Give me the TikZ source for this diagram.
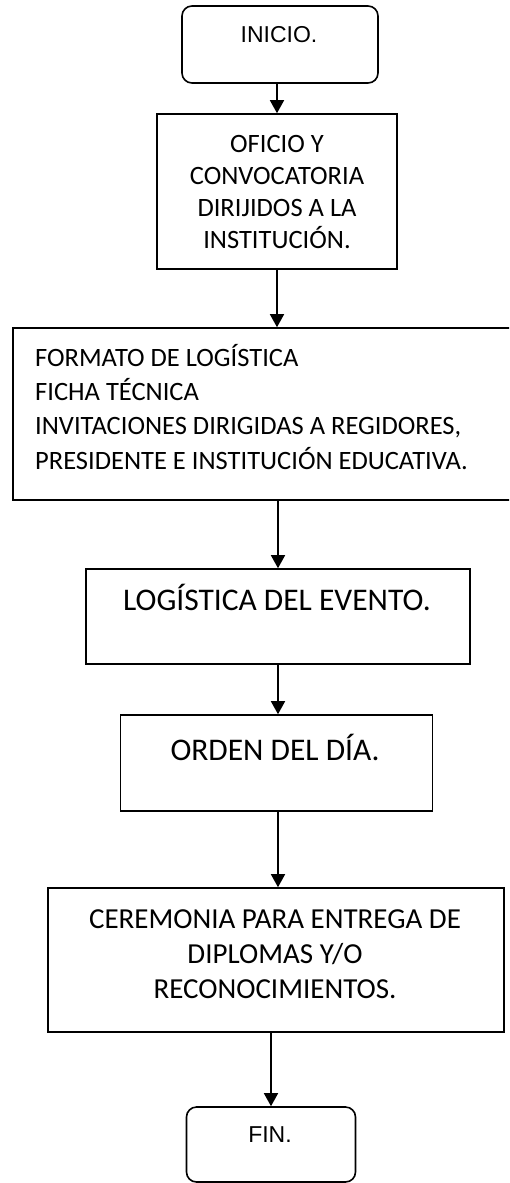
\documentclass[tikz,border=0pt]{standalone}
\usepackage{fontspec}
\newfontfamily\calfont{Carlito}
\newfontfamily\arfont{Liberation Sans}
\usetikzlibrary{arrows.meta}
\begin{document}
\begin{tikzpicture}[x=1pt,y=-1pt,
  box/.style={draw, line width=1.6pt, inner sep=0pt},
  rbox/.style={box, rounded corners=10pt},
  arr/.style={line width=1.6pt, -{Triangle[length=13pt,width=14pt]}},
  txt/.style={inner sep=0pt, anchor=base},
  txtsmall/.style={txt, font=\calfont\fontsize{26.5}{32}\selectfont},
  txtmid/.style={txt, font=\calfont\fontsize{29}{35}\selectfont},
  txtbig/.style={txt, font=\calfont\fontsize{31.5}{38}\selectfont},
  txtarial/.style={txt, font=\arfont\fontsize{23}{27}\selectfont},
  txtleft/.style={txtsmall, anchor=base west}]
\useasboundingbox (0,0) rectangle (509,1183);
\clip (0,0) rectangle (509,1183);
% boxes
\node[rbox, minimum width=196pt, minimum height=77pt] (inicio) at (280,44.5) {};
\node[box, minimum width=240pt, minimum height=155pt] (oficio) at (277,191.5) {};
\node[box, minimum width=507pt, minimum height=172pt] (formato) at (266.5,414) {};
\node[box, minimum width=384pt, minimum height=95pt] (logistica) at (278,616.5) {};
\node[box, minimum width=312pt, minimum height=96pt] (orden) at (276.5,763) {};
\node[box, minimum width=456pt, minimum height=144pt] (ceremonia) at (276,960) {};
\node[rbox, minimum width=169pt, minimum height=75pt] (fin) at (271,1144.5) {};
% texts
\node[txtarial] (tinicio) at (279,42.3) {INICIO.};
\node[txtsmall] (tof1) at (277,152) {OFICIO Y};
\node[txtsmall] (tof2) at (277,184.3) {CONVOCATORIA};
\node[txtsmall] (tof3) at (277,216.6) {DIRIJIDOS A LA};
\node[txtsmall] (tof4) at (277,248.9) {INSTITUCIÓN.};
\node[txtleft] (tfo1) at (35,366) {FORMATO DE LOGÍSTICA};
\node[txtleft] (tfo2) at (35,400) {FICHA TÉCNICA};
\node[txtleft] (tfo3) at (35,434.8) {INVITACIONES DIRIGIDAS A REGIDORES,};
\node[txtleft] (tfo4) at (35,469.2) {PRESIDENTE E INSTITUCIÓN EDUCATIVA.};
\node[txtbig] (tlog) at (277,610) {LOGÍSTICA DEL EVENTO.};
\node[txtbig] (tord) at (275,760) {ORDEN DEL DÍA.};
\node[txtmid] (tce1) at (275,928) {CEREMONIA PARA ENTREGA DE};
\node[txtmid] (tce2) at (275,963) {DIPLOMAS Y/O};
\node[txtmid] (tce3) at (275,998) {RECONOCIMIENTOS.};
\node[txtarial] (tfin) at (270,1142.3) {FIN.};
% connectors
\draw[arr] (oficio.north |- inicio.south) -- (oficio.north);
\draw[arr] (oficio.south) -- (oficio.south |- formato.north);
\draw[arr] (logistica.north |- formato.south) -- (logistica.north);
\draw[arr] (logistica.south) -- (logistica.south |- orden.north);
\draw[arr] (logistica.south |- orden.south) -- (logistica.south |- ceremonia.north);
\draw[arr] (fin.north |- ceremonia.south) -- (fin.north);
\end{tikzpicture}
\end{document}
